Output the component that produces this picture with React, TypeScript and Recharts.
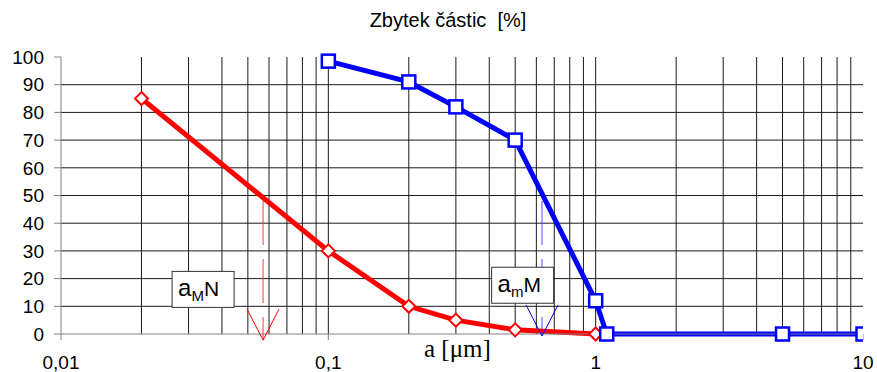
import {
  ComposedChart,
  Line,
  ReferenceDot,
  ReferenceLine,
  XAxis,
  YAxis,
} from "recharts";

// red series (diamonds)
const redSize = [0.02, 0.1, 0.2, 0.3, 0.5, 1];
const redRest = [85, 30, 10, 5, 1.5, 0];

// blue series (squares)
const blueSize = [0.1, 0.2, 0.3, 0.5, 1, 1.1, 5, 10];
const blueRest = [98.5, 91, 82, 70, 12, 0, 0, 0];

const xTicks = [0.01, 0.1, 1, 10];
const yTicks = [0, 10, 20, 30, 40, 50, 60, 70, 80, 90, 100];
const gridX = [
  0.02, 0.03, 0.04, 0.05, 0.06, 0.07, 0.08, 0.09, 0.1, 0.2, 0.3, 0.4, 0.5,
  0.6, 0.7, 0.8, 0.9, 1, 2, 3, 4, 5, 6, 7, 8, 9,
];
const gridY = [10, 20, 30, 40, 50, 60, 70, 80, 90];

// median markers: x position, where dashes start, tip value
const markers = [
  { x: 0.057, top: 48, tip: -2.2, color: "#ff3b3b", head: "#ff0000" },
  { x: 0.63, top: 48, tip: -0.7, color: "#4d4dff", head: "#0000ff" },
];
// label boxes
const boxes = [
  { x: 0.034, y: 16.1, sub: "M", tail: "N" },
  { x: 0.533, y: 17.6, sub: "m", tail: "M" },
];

const redData = redSize.map((x, i) => ({ x, y: redRest[i] }));
const blueData = blueSize.map((x, i) => ({ x, y: blueRest[i] }));

const font = "'Liberation Sans', Arial, sans-serif";

const Diamond = (p: any) => {
  const { cx, cy } = p;
  if (cx == null || cy == null) return <g />;
  const r = 6.5;
  return (
    <path
      d={`M${cx},${cy - r}L${cx + r},${cy}L${cx},${cy + r}L${cx - r},${cy}Z`}
      fill="#fff"
      stroke="#ff0000"
      strokeWidth={2}
    />
  );
};

const Square = (p: any) => {
  const { cx, cy } = p;
  if (cx == null || cy == null) return <g />;
  const s = 6.5;
  return (
    <rect
      x={cx - s}
      y={cy - s}
      width={s * 2}
      height={s * 2}
      fill="#fff"
      stroke="#0000ff"
      strokeWidth={2.5}
    />
  );
};

const ArrowHead = (color: string) => (p: any) => {
  const { cx, cy } = p;
  return (
    <path
      d={`M${cx - 16},${cy - 31}L${cx},${cy}L${cx + 16},${cy - 31}`}
      fill="none"
      stroke={color}
      strokeWidth={1}
    />
  );
};

const LabelBox = (sub: string, tail: string) => (p: any) => {
  const { cx, cy } = p;
  return (
    <g>
      <rect
        x={cx - 31}
        y={cy - 18}
        width={62}
        height={36}
        fill="#fff"
        stroke="#333"
        strokeWidth={1}
      />
      <text x={cx - 25} y={cy + 7} fontFamily={font} fill="#000">
        <tspan fontSize={24}>a</tspan>
        <tspan fontSize={15} dy={5}>
          {sub}
        </tspan>
        <tspan fontSize={21} dy={-5}>
          {tail}
        </tspan>
      </text>
    </g>
  );
};

const fmt = (v: number) => String(v).replace(".", ",");

const App = () => {
  return (
    <div
      style={{
        position: "absolute",
        left: 0,
        top: 0,
        width: 877,
        height: 372,
        background: "#fff",
        overflow: "hidden",
      }}
    >
      <div
        style={{
          position: "absolute",
          left: 0,
          width: 896,
          top: 9,
          textAlign: "center",
          fontFamily: font,
          fontSize: 20,
          whiteSpace: "pre",
          color: "#000",
        }}
      >
        {"Zbytek částic  [%]"}
      </div>
      <div
        style={{
          position: "absolute",
          left: 424,
          top: 335,
          fontFamily: "'Liberation Serif', 'Times New Roman', serif",
          fontSize: 25,
          whiteSpace: "pre",
          color: "#000",
        }}
      >
        a [μm]
      </div>
      <ComposedChart
        width={877}
        height={372}
        margin={{ top: 57, right: 14, bottom: 0, left: 0 }}
      >
        <XAxis
          dataKey="x"
          type="number"
          scale="log"
          domain={[0.01, 10]}
          ticks={xTicks}
          allowDataOverflow
          height={38}
          tickSize={6}
          tickMargin={16}
          tickFormatter={fmt}
          stroke="#808080"
          tick={{ fill: "#000", fontSize: 19, fontFamily: font }}
        />
        <YAxis
          type="number"
          domain={[0, 100]}
          ticks={yTicks}
          width={61}
          tickSize={7}
          tickMargin={10}
          stroke="#808080"
          tick={{ fill: "#000", fontSize: 19, fontFamily: font }}
        />
        {gridY.map((v) => (
          <ReferenceLine key={`gy${v}`} y={v} stroke="#1a1a1a" strokeWidth={1} />
        ))}
        {gridX.map((v) => (
          <ReferenceLine key={`gx${v}`} x={v} stroke="#1a1a1a" strokeWidth={1} />
        ))}
        {markers.map((m) => (
          <ReferenceLine
            key={`ml${m.x}`}
            segment={[
              { x: m.x, y: m.top },
              { x: m.x, y: m.tip },
            ]}
            stroke={m.color}
            strokeWidth={1}
            strokeDasharray="44 14"
            ifOverflow="visible"
          />
        ))}
        {markers.map((m) => (
          <ReferenceDot
            key={`mh${m.x}`}
            x={m.x}
            y={m.tip}
            ifOverflow="visible"
            shape={ArrowHead(m.head)}
          />
        ))}
        {boxes.map((b) => (
          <ReferenceDot
            key={`bx${b.x}`}
            x={b.x}
            y={b.y}
            shape={LabelBox(b.sub, b.tail)}
          />
        ))}
        <Line
          data={redData}
          dataKey="y"
          stroke="#ff0000"
          strokeWidth={5}
          dot={(p: any) => <Diamond key={`r${p.index}`} {...p} />}
          isAnimationActive={false}
        />
        <Line
          data={blueData}
          dataKey="y"
          stroke="#0000ff"
          strokeWidth={5}
          dot={(p: any) => <Square key={`b${p.index}`} {...p} />}
          isAnimationActive={false}
        />
      </ComposedChart>
    </div>
  );
};

export default App;
